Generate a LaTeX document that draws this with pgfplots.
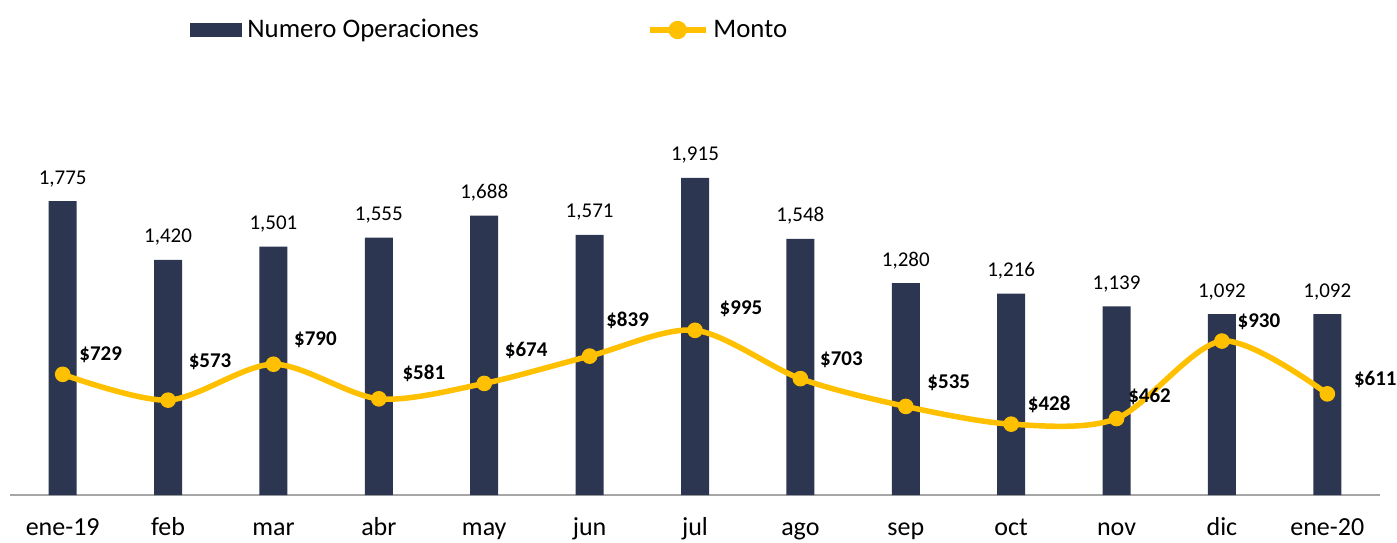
\documentclass[border=0pt]{standalone}
\usepackage{fontspec}
\setmainfont{Carlito}
\usepackage{pgfplots}
\usepackage{pgfplotstable}
\pgfplotsset{compat=1.18}
\definecolor{navy}{HTML}{2C3650}
\definecolor{gold}{HTML}{FFC000}
\pgfplotstableread{
x ops monto dx dy
0 1775 729 38 20
1 1420 573 42 38
2 1501 790 42 24
3 1555 581 45 25
4 1688 674 42 33
5 1571 839 38 36
6 1915 995 46 22
7 1548 703 41 19
8 1280 535 43 24
9 1216 428 38 20
10 1139 462 33 22
11 1092 930 37 19
12 1092 611 48 14
}\datatable
\begin{document}
\begin{tikzpicture}
\useasboundingbox (-5pt,-23.5pt) rectangle (693.5pt,247.5pt);
\begin{axis}[
  at={(0,0)}, anchor=south west,
  scale only axis, width=685pt, height=207.5pt,
  xmin=-0.5, xmax=12.5, ymin=0, ymax=2507,
  axis x line=bottom, axis y line=none,
  x axis line style={-, draw=black!35, line width=0.8pt},
  xtick={0,...,12},
  xticklabels={ene-19,feb,mar,abr,may,jun,jul,ago,sep,oct,nov,dic,ene-20},
  major tick length=0pt,
  xticklabel style={font=\fontsize{13}{15}\selectfont, anchor=base, yshift=-20.3pt},
  ytick=\empty,
  clip=false,
  /pgf/number format/assume math mode=true,
  legend columns=-1,
  legend cell align=left,
  legend style={at={(axis description cs:0.1314,1.1205)}, anchor=west, draw=none, fill=none,
    inner sep=0pt, font=\fontsize{13.4}{15}\selectfont, nodes={inner sep=0pt},
    /tikz/every odd column/.append style={column sep=2.5pt},
    /tikz/every even column/.append style={column sep=84pt}},
]
\addplot[ybar, bar width=14pt, bar shift=0pt, fill=navy, draw=none,
  nodes near coords={\pgfmathprintnumber[1000 sep={,}]{\pgfplotspointmeta}},
  every node near coord/.append style={font=\fontsize{10.5}{12}\selectfont, text=black, anchor=base, yshift=8.5pt},
  legend image code/.code={\fill[navy] (0pt,-3.5pt) rectangle (26pt,3.5pt);}
] table[x=x,y=ops]{\datatable};
\addlegendentry{Numero Operaciones}
\addplot[gold, line width=2.75pt, smooth, mark=*, mark size=3.6pt,
  mark options={line width=0.6pt, fill=gold, draw=gold},
  visualization depends on={\thisrow{dx} \as \dx},
  visualization depends on={\thisrow{dy} \as \dy},
  nodes near coords={\$\pgfmathprintnumber{\pgfplotspointmeta}},
  every node near coord/.append style={font=\bfseries\fontsize{10.5}{12}\selectfont, text=black, anchor=center, xshift=\dx*0.5pt, yshift=\dy*0.5pt},
  legend image code/.code={\draw[gold, line width=2.75pt] (0pt,0pt) -- (28pt,0pt); \fill[gold] (14pt,0pt) circle (3.2pt);}
] table[x=x,y=monto]{\datatable};
\addlegendentry{Monto}
\end{axis}
\end{tikzpicture}
\end{document}
